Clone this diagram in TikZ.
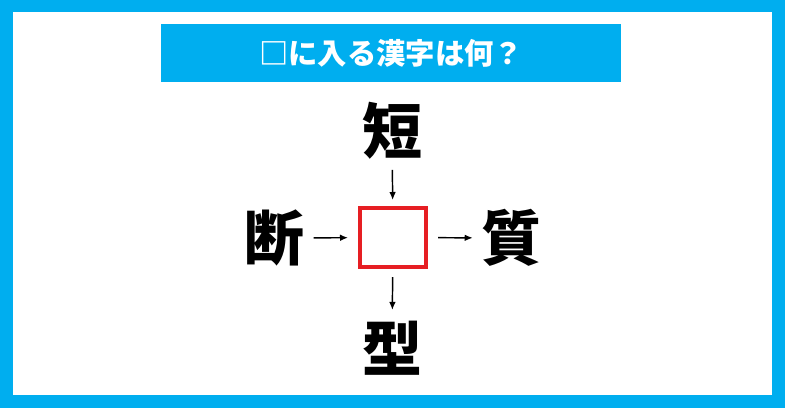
\documentclass[tikz,border=0pt]{standalone}
\usepackage{fontspec}
\newfontfamily\cjk{Noto Sans CJK JP}
\usetikzlibrary{arrows.meta}
\definecolor{sky}{RGB}{0,174,239}
\definecolor{boxred}{RGB}{230,30,35}

\begin{document}
\begin{tikzpicture}[x=0.75pt, y=-0.75pt,
    kanji/.style={font=\cjk\bfseries\fontsize{45}{45}\selectfont, inner sep=0pt},
    arr/.style={-{Latex[length=6pt,width=5pt]}, line width=1.1pt}]

      \fill[sky] (0,0) rectangle (785,408);
      \fill[white] (13,12) rectangle (772,395);

      \node[fill=sky, text=white, minimum width=345pt, minimum height=43.5pt,
        font=\cjk\bfseries\fontsize{22}{22}\selectfont] (title) at (391,53) {□に入る漢字は何？};

      \node[draw=boxred, line width=3pt, minimum width=49.5pt, minimum height=44.25pt] (blank) at (393,237.5) {};

      \node[kanji] (top) at (392,131) {短};
      \node[kanji] (left) at (274,238) {断};
      \node[kanji] (right) at (511,238) {質};
      \node[kanji] (bottom) at (392,348) {型};

      \draw[arr, shorten <=7.5pt, shorten >=4.5pt] (top) -- (blank);
      \draw[arr, shorten <=7pt, shorten >=7.5pt] (left) -- (blank);
      \draw[arr, shorten <=7.5pt, shorten >=6pt] (blank) -- (right);
      \draw[arr, shorten <=6pt, shorten >=8pt] (blank) -- (bottom);

    \end{tikzpicture}
\end{document}
